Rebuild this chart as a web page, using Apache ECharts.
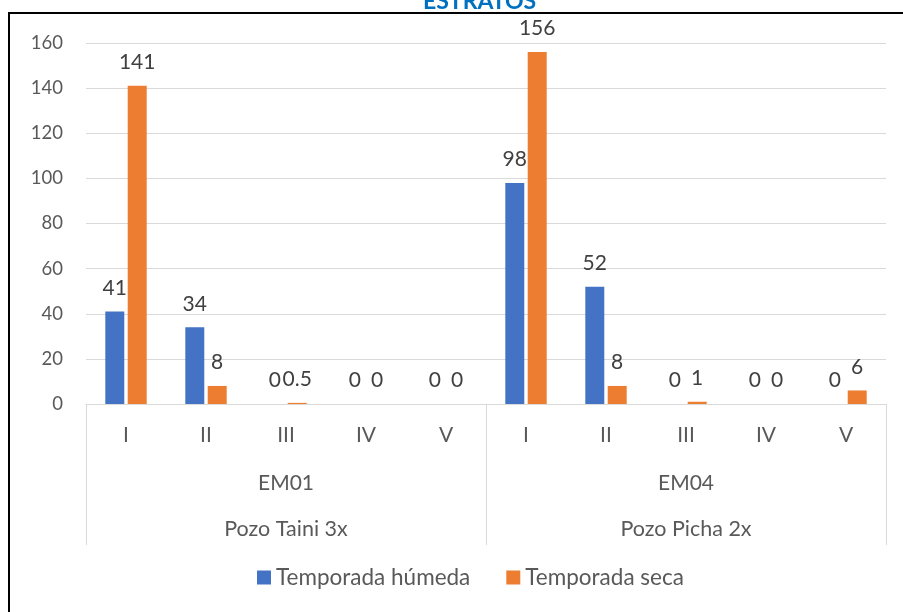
<!DOCTYPE html>
<html><head><meta charset="utf-8">
<script src="https://cdn.jsdelivr.net/npm/echarts@6/dist/echarts.min.js"></script>
<style>html,body{margin:0;padding:0;background:#fff}#c{width:903px;height:612px}</style>
</head><body><div id="c"></div>
<script>
const strata = ['I','II','III','IV','V','I','II','III','IV','V'];
const stations = ['EM01','EM04'];
const wells = ['Pozo Taini 3x','Pozo Picha 2x'];
const humeda = [41,34,0,0,0,98,52,0,0,0];
const seca = [141,8,0.5,0,0,156,8,1,0,6];
const yTicks = [0,20,40,60,80,100,120,140,160];

const FONT = 'Lato';
const chart = echarts.init(document.getElementById('c'));
const lbl = {show:true, position:'top', distance:13, color:'#404040', fontSize:21, fontFamily:FONT};
chart.setOption({
  animation:false,
  title:{text:'ESTRATOS', left:418, top:-15, textStyle:{color:'#0070C0', fontWeight:'bold', fontSize:23, fontFamily:FONT}},
  graphic:[
    {type:'line', shape:{x1:8,y1:13,x2:903,y2:13}, style:{stroke:'#000', lineWidth:2}},
    {type:'line', shape:{x1:9,y1:13,x2:9,y2:612}, style:{stroke:'#000', lineWidth:2}}
  ],
  grid:{left:86, right:17, top:43, bottom:208, containLabel:false},
  legend:{bottom:18, left:252, itemWidth:14, itemHeight:14, itemGap:36, icon:'rect',
    textStyle:{color:'#595959', fontSize:22.5, fontFamily:FONT}},
  xAxis:[
    {type:'category', data:strata, position:'bottom',
      axisLine:{show:true, lineStyle:{color:'#d9d9d9', width:1}}, axisTick:{show:false},
      axisLabel:{color:'#595959', fontSize:21, fontFamily:FONT, margin:21, interval:0}},
    {type:'category', data:stations, position:'bottom', gridIndex:0,
      axisLine:{show:false}, axisTick:{show:true, length:141, interval:0, lineStyle:{color:'#d9d9d9'}},
      axisLabel:{color:'#595959', fontSize:21, fontFamily:FONT, margin:69, interval:0}},
    {type:'category', data:wells, position:'bottom', gridIndex:0,
      axisLine:{show:false}, axisTick:{show:false},
      axisLabel:{color:'#595959', fontSize:21.5, fontFamily:FONT, margin:114, interval:0}}
  ],
  yAxis:{type:'value', min:yTicks[0], max:yTicks[yTicks.length-1], interval:20,
    axisLine:{show:false}, axisTick:{show:false},
    splitLine:{lineStyle:{color:'#d9d9d9'}},
    axisLabel:{color:'#595959', fontSize:18.5, fontFamily:FONT, margin:23}},
  series:[
    {name:'Temporada húmeda', type:'bar', data:humeda, xAxisIndex:0, barWidth:19, barGap:'18%',
      itemStyle:{color:'#4472C4'}, label:lbl},
    {name:'Temporada seca', type:'bar', data:seca, xAxisIndex:0, barWidth:19,
      itemStyle:{color:'#ED7D31'}, label:lbl}
  ]
});
</script></body></html>
